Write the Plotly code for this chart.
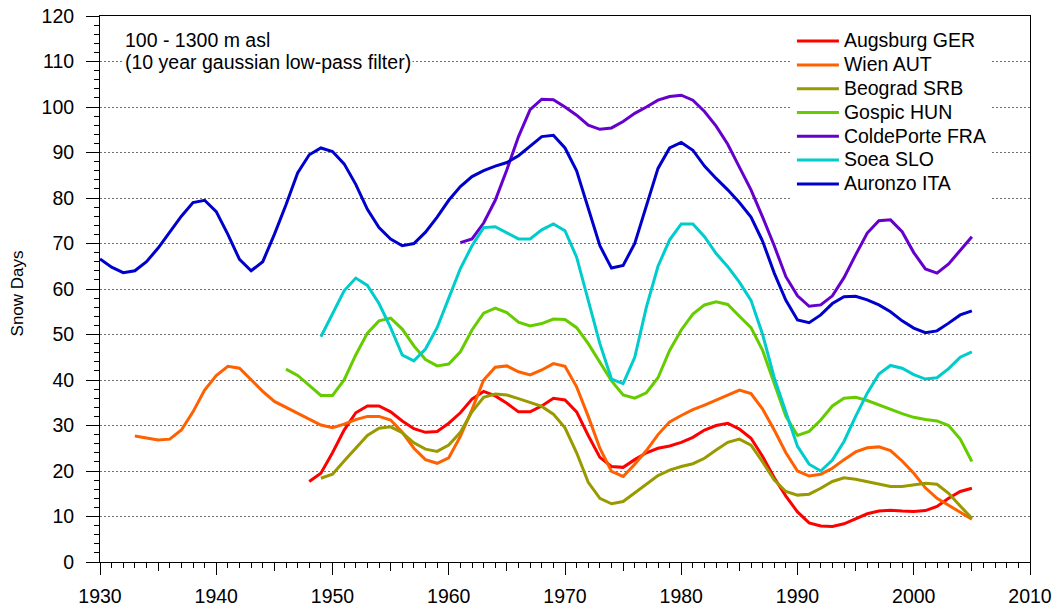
import plotly.graph_objects as go

# Annual values of the 10-year gaussian low-pass filtered snow-day series
augsburg_years = list(range(1948, 2006))
augsburg = [17.7, 19.5, 24.0, 29.0, 32.8, 34.3, 34.3, 33.0, 31.0, 29.3,
            28.5, 28.7, 30.5, 32.8, 35.8, 37.5, 36.5, 34.9, 33.0, 33.0,
            34.3, 36.0, 35.6, 33.0, 27.8, 23.0, 21.0, 20.8, 22.5, 24.0,
            25.0, 25.5, 26.3, 27.4, 29.0, 30.0, 30.5, 29.2, 27.2, 23.2,
            18.5, 14.5, 11.0, 8.6, 7.9, 7.8, 8.4, 9.5, 10.6, 11.2,
            11.4, 11.2, 11.1, 11.3, 12.2, 14.0, 15.5, 16.2]

wien_years = list(range(1933, 2006))
wien = [27.7, 27.2, 26.8, 27.0, 29.0, 33.0, 37.8, 41.0, 43.0, 42.6,
        40.0, 37.5, 35.3, 34.0, 32.8, 31.4, 30.1, 29.5, 30.3, 31.3,
        32.0, 32.0, 31.2, 28.5, 25.0, 22.5, 21.7, 22.9, 27.6, 33.5,
        40.0, 42.8, 43.1, 41.8, 41.1, 42.2, 43.6, 43.0, 38.5, 32.0,
        25.0, 19.9, 18.8, 21.5, 24.5, 28.0, 30.8, 32.2, 33.5, 34.5,
        35.6, 36.7, 37.8, 37.0, 33.6, 29.0, 24.0, 20.0, 18.9, 19.3,
        20.6, 22.5, 24.2, 25.1, 25.3, 24.5, 22.2, 19.5, 16.3, 14.0,
        12.5, 11.0, 9.4]

beograd_years = list(range(1949, 2006))
beograd = [18.4, 19.3, 22.2, 25.0, 27.8, 29.4, 29.7, 28.4, 26.2, 24.8,
           24.3, 25.7, 28.5, 33.0, 36.2, 36.9, 36.7, 35.9, 35.0, 34.2,
           32.5, 29.5, 24.0, 17.5, 14.0, 12.8, 13.3, 15.2, 17.2, 19.0,
           20.2, 21.0, 21.6, 22.8, 24.6, 26.3, 27.0, 25.7, 22.0, 18.0,
           15.5, 14.7, 14.9, 16.2, 17.7, 18.5, 18.2, 17.7, 17.1, 16.6,
           16.6, 17.0, 17.3, 17.1, 15.1, 12.3, 9.6]

gospic_years = list(range(1946, 2006))
gospic = [42.4, 41.0, 38.8, 36.6, 36.6, 40.0, 45.5, 50.3, 53.0, 53.6,
          51.2, 47.5, 44.5, 43.1, 43.5, 46.2, 51.0, 54.7, 55.8, 54.8,
          52.7, 51.9, 52.4, 53.4, 53.3, 51.5, 48.0, 43.8, 39.8, 36.7,
          36.0, 37.2, 40.5, 46.5, 51.0, 54.5, 56.5, 57.2, 56.6, 54.0,
          51.5, 46.5, 39.0, 32.0, 27.8, 28.7, 31.2, 34.3, 36.0, 36.2,
          35.5, 34.5, 33.5, 32.6, 31.8, 31.3, 31.0, 30.0, 27.0, 22.1]

coldeporte_years = list(range(1961, 2006))
coldeporte = [70.2, 71.0, 74.5, 79.5, 86.2, 93.5, 99.4, 101.7, 101.6, 100.0,
              98.2, 96.0, 95.1, 95.4, 96.8, 98.6, 100.0, 101.5, 102.3, 102.6,
              101.5, 99.0, 95.8, 91.8, 86.8, 81.8, 75.8, 69.5, 62.7, 58.5,
              56.2, 56.5, 58.5, 62.5, 67.5, 72.3, 75.0, 75.2, 72.6, 68.0,
              64.4, 63.5, 65.5, 68.5, 71.5]

soea_years = list(range(1949, 2006))
soea = [49.5, 54.5, 59.6, 62.4, 60.8, 56.8, 51.5, 45.5, 44.2, 46.8,
        51.5, 58.0, 64.5, 69.5, 73.5, 73.7, 72.3, 71.0, 71.0, 73.0,
        74.3, 72.8, 67.0, 57.5, 48.0, 40.2, 39.2, 45.0, 56.0, 65.0,
        70.8, 74.3, 74.3, 71.5, 67.8, 64.9, 61.5, 57.5, 50.0, 40.5,
        33.0, 25.4, 21.5, 20.0, 22.4, 26.5, 32.0, 37.1, 41.3, 43.2,
        42.6, 41.2, 40.2, 40.5, 42.5, 45.0, 46.2]

auronzo_years = list(range(1930, 2006))
auronzo = [66.6, 64.8, 63.6, 64.0, 66.0, 69.0, 72.5, 76.0, 79.0, 79.5,
           77.0, 72.0, 66.5, 64.0, 66.0, 72.0, 78.5, 85.5, 89.5, 91.0,
           90.2, 87.5, 83.0, 77.5, 73.5, 71.0, 69.5, 70.0, 72.5, 75.8,
           79.5, 82.5, 84.7, 86.0, 87.0, 87.8, 89.3, 91.5, 93.5, 93.8,
           91.0, 86.0, 77.5, 69.5, 64.6, 65.2, 70.0, 78.5, 86.5, 91.0,
           92.2, 90.5, 87.0, 84.3, 81.8, 79.0, 75.8, 70.5, 63.5, 57.5,
           53.2, 52.6, 54.3, 56.8, 58.3, 58.4, 57.6, 56.5, 55.0, 53.0,
           51.4, 50.4, 50.8, 52.5, 54.3, 55.2]

series = [
    ("Augsburg GER", augsburg_years, augsburg, "#FF0000"),
    ("Wien AUT", wien_years, wien, "#FF6000"),
    ("Beograd SRB", beograd_years, beograd, "#999900"),
    ("Gospic HUN", gospic_years, gospic, "#66CC00"),
    ("ColdePorte FRA", coldeporte_years, coldeporte, "#6600CC"),
    ("Soea SLO", soea_years, soea, "#00CCCC"),
    ("Auronzo ITA", auronzo_years, auronzo, "#0000CC"),
]

FONT = "Liberation Sans, Arial, sans-serif"
BIG = 19.5

fig = go.Figure()
for name, yrs, vals, color in series:
    fig.add_trace(go.Scatter(
        x=yrs, y=vals, mode="lines",
        name=f"<span style='font-size:{BIG}px'>{name}</span>",
        line=dict(color=color, width=3),
    ))

# helper trace so the 5-year tick axis is rendered
fig.add_trace(go.Scatter(x=[None], y=[None], xaxis="x2", showlegend=False,
                         hoverinfo="skip"))

fig.update_layout(
    width=1054, height=610,
    margin=dict(l=100, r=24, t=16, b=48),
    paper_bgcolor="white", plot_bgcolor="white",
    font=dict(family=FONT, color="black", size=BIG),
    xaxis=dict(
        range=[1930, 2010], tick0=1930, dtick=10, automargin=False,
        ticks="outside", ticklen=12, tickwidth=1, tickcolor="black",
        ticklabelstandoff=5,
        showline=True, linecolor="black", linewidth=1, mirror=True,
        showgrid=False, zeroline=False,
        tickfont=dict(size=BIG),
        minor=dict(dtick=1, tick0=1930, ticks="outside", ticklen=5,
                   tickcolor="black", showgrid=False),
    ),
    xaxis2=dict(
        range=[1930, 2010], overlaying="x", anchor="y", side="bottom",
        automargin=False,
        tick0=1935, dtick=10, ticks="outside", ticklen=8, tickcolor="black",
        showticklabels=False, showline=False, showgrid=False, zeroline=False,
    ),
    yaxis=dict(
        range=[0, 120], tick0=0, dtick=10, automargin=False,
        ticks="outside", ticklen=13, tickwidth=1, tickcolor="black",
        ticklabelstandoff=8,
        showline=True, linecolor="black", linewidth=1, mirror=True,
        showgrid=True, gridcolor="#707070", gridwidth=1, griddash="2px,2px",
        zeroline=False,
        tickfont=dict(size=BIG),
        minor=dict(dtick=2, tick0=0, ticks="outside", ticklen=5,
                   tickcolor="black", showgrid=False),
    ),
    showlegend=True,
    legend=dict(
        x=0.744, y=0.985, xanchor="left", yanchor="top",
        bgcolor="white", borderwidth=0,
        font=dict(size=16, family=FONT), itemwidth=42,
        traceorder="normal",
    ),
    annotations=[
        dict(text="100 - 1300 m asl", xref="paper", yref="paper",
             x=0.0247, y=0.956, xanchor="left", yanchor="middle",
             showarrow=False, bgcolor="white", font=dict(size=BIG)),
        dict(text="(10 year gaussian low-pass filter)", xref="paper", yref="paper",
             x=0.0247, y=0.916, xanchor="left", yanchor="middle",
             showarrow=False, bgcolor="white", font=dict(size=BIG)),
        dict(text="Snow Days", xref="paper", yref="paper",
             x=-0.0887, y=0.491, xanchor="center", yanchor="middle",
             textangle=-90, showarrow=False, font=dict(size=17)),
    ],
)

fig.write_html("out.html")
